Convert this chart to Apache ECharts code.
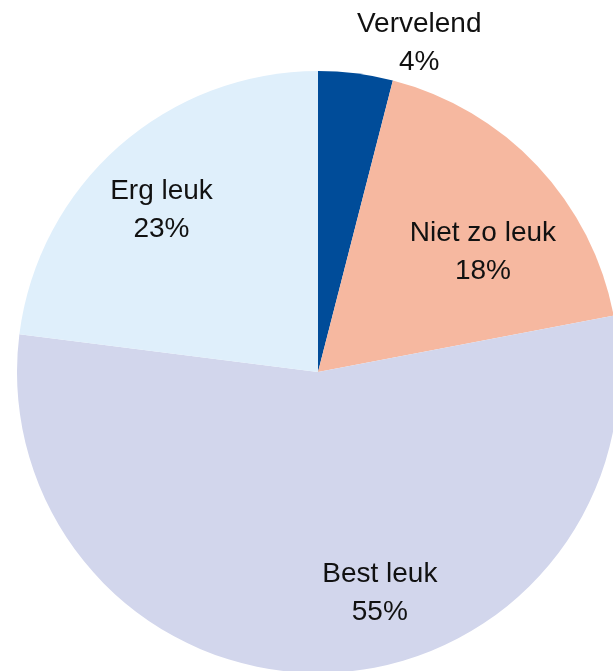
<!DOCTYPE html>
<html>
<head>
<meta charset="utf-8">
<script src="https://cdn.jsdelivr.net/npm/echarts@6/dist/echarts.min.js"></script>
<style>
  html, body { margin: 0; padding: 0; background: #fff; }
  #chart { width: 613px; height: 671px; }
</style>
</head>
<body>
<div id="chart"></div>
<script>
// data (percent, clockwise from 12 o'clock)
const categories = ["Vervelend", "Niet zo leuk", "Best leuk", "Erg leuk"];
const values = [4, 18, 55, 23];
const colors = ["#004c99", "#f6b8a0", "#d2d6ec", "#dfeffb"];

// shift each label away from the default inside spot
const labelShift = [
  [82, -176],
  [53, -15],
  [57, 68],
  [-55, -47],
];

const chart = echarts.init(document.getElementById("chart"));
const option = {
  animation: false,
  series: [
    {
      type: "pie",
      center: [318, 372],
      radius: 301,
      startAngle: 90,
      clockwise: true,
      avoidLabelOverlap: false,
      itemStyle: { borderWidth: 0 },
      label: {
        position: "inside",
        formatter: (p) => p.name + "\n" + p.value + "%",
        fontFamily: "Liberation Sans",
        fontSize: 28,
        lineHeight: 38,
        color: "#111",
        align: "center",
      },
      labelLine: { show: false },
      labelLayout: (p) => ({
        dx: labelShift[p.dataIndex][0],
        dy: labelShift[p.dataIndex][1],
      }),
      emphasis: { disabled: true },
      data: categories.map((name, i) => ({
        name: name,
        value: values[i],
        itemStyle: { color: colors[i] },
      })),
    },
  ],
};
chart.setOption(option);
</script>
</body>
</html>
